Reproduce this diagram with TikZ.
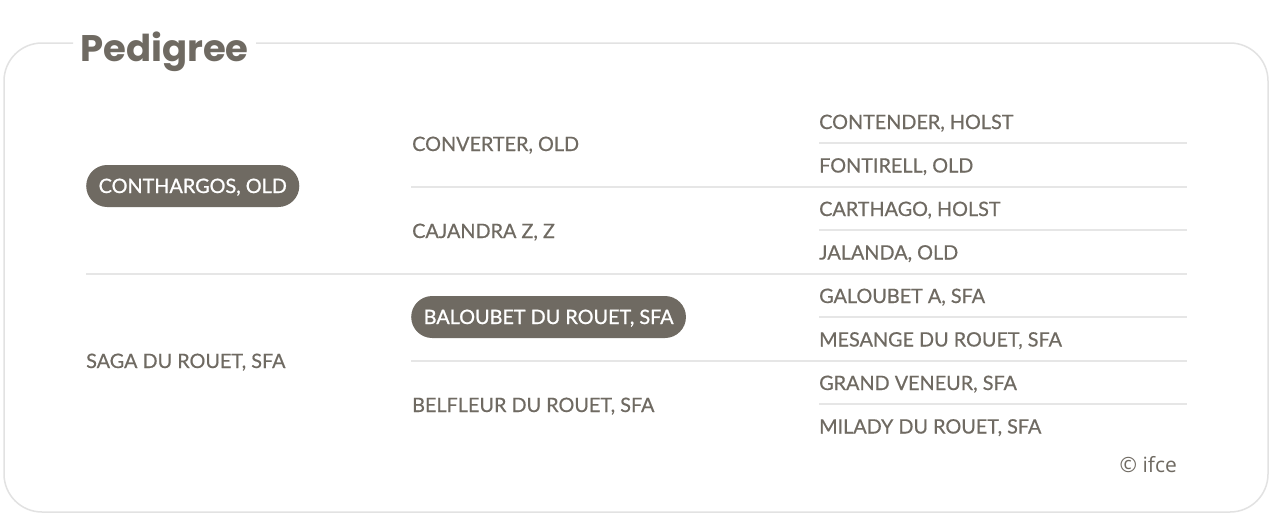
\documentclass[tikz,border=0pt]{standalone}
\usepackage{fontspec}
\setmainfont{Lato}
\newfontfamily\medfont[FakeBold=0.5]{Lato}
\newfontfamily\pillfont[FakeBold=1.0]{Lato}
\newfontfamily\titlefont{Poppins}
\newfontfamily\copyfont{Open Sans}
\definecolor{txt}{HTML}{6F6A62}
\definecolor{rule}{HTML}{E6E6E6}
\definecolor{frame}{HTML}{E2E2E2}
\begin{document}
\begin{tikzpicture}[x=1pt,y=-1pt,
  horse/.style={anchor=base west,inner sep=0pt,text=txt,font=\medfont\fontsize{19.8}{21}\selectfont},
  pill/.style={anchor=west,inner xsep=12.5pt,inner ysep=0pt,text height=14pt,text depth=0pt,minimum height=42pt,rounded corners=21pt,fill=txt,text=white,font=\pillfont\fontsize{19.8}{21}\selectfont},
  sep/.style={rule,line width=1.6pt}]
\useasboundingbox (0,0) rectangle (1280,525);
\fill[white] (0,0) rectangle (1280,525);
\draw[frame,line width=1.5pt,rounded corners=38pt] (73,43) -- (4,43) -- (4,512) -- (1268,512) -- (1268,43) -- (256,43);
\node[anchor=base west,inner sep=0pt,text=txt,font=\titlefont\bfseries\fontsize{37}{40}\selectfont] (title) at (80,61) {Pedigree};
% generation 1
\node[pill] (g1a) at (86,186) {CONTHARGOS, OLD};
\node[horse] (g1b) at (86,368) {SAGA DU ROUET, SFA};
% generation 2
\node[horse] (g2a) at (412,151) {CONVERTER, OLD};
\node[horse] (g2b) at (412,238) {CAJANDRA Z, Z};
\node[pill] (g2c) at (411,317) {BALOUBET DU ROUET, SFA};
\node[horse] (g2d) at (412,412) {BELFLEUR DU ROUET, SFA};
% generation 3
\node[horse] (g3a) at (819,129) {CONTENDER, HOLST};
\node[horse] (g3b) at (819,172.5) {FONTIRELL, OLD};
\node[horse] (g3c) at (819,216) {CARTHAGO, HOLST};
\node[horse] (g3d) at (819,259.5) {JALANDA, OLD};
\node[horse] (g3e) at (819,303) {GALOUBET A, SFA};
\node[horse] (g3f) at (819,346.5) {MESANGE DU ROUET, SFA};
\node[horse] (g3g) at (819,390) {GRAND VENEUR, SFA};
\node[horse] (g3h) at (819,433.5) {MILADY DU ROUET, SFA};
% separators
\foreach \y in {143,230,317,404} \draw[sep] (819,\y) -- (1187,\y);
\foreach \y in {187,361} \draw[sep] (411,\y) -- (1187,\y);
\draw[sep] (86,274) -- (1187,274);
\node[anchor=east,inner sep=0pt,text=txt,font=\copyfont\fontsize{21}{23}\selectfont] (copy) at (1177,465) {© ifce};
\end{tikzpicture}
\end{document}
